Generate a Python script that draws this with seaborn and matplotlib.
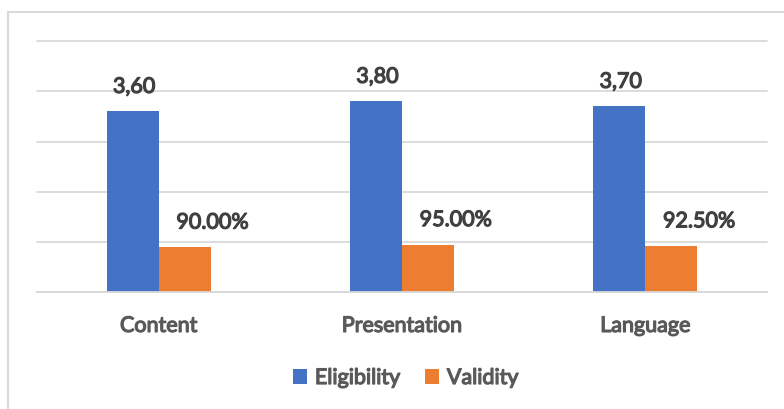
import matplotlib
matplotlib.use("Agg")
import matplotlib.pyplot as plt
import matplotlib.patheffects as pe
from matplotlib.patches import Rectangle, Patch
from matplotlib.ticker import FixedLocator
import pandas as pd
import seaborn as sns

categories = ["Content", "Presentation", "Language"]
eligibility = [3.60, 3.80, 3.70]
validity = [0.90, 0.95, 0.925]
eligibility_labels = ["3,60", "3,80", "3,70"]
validity_labels = ["90.00%", "95.00%", "92.50%"]
series = ["Eligibility", "Validity"]
colors = ["#4472C4", "#ED7D31"]

df = pd.DataFrame({
    "category": categories * 2,
    "series": [series[0]] * 3 + [series[1]] * 3,
    "value": eligibility + validity,
})

sns.set_style("white")
plt.rcParams["font.family"] = ["Lato", "DejaVu Sans"]
FS = 15.5


def heavy(color):
    # thicken the glyphs with a same-coloured outline
    return [pe.withStroke(linewidth=0.9, foreground=color)]


W, H = 784, 410
fig = plt.figure(figsize=(W / 100, H / 100), dpi=100)
ax = fig.add_axes([37 / W, 1 - 293.3 / H, (767 - 37) / W, (293.3 - 42) / H])

sns.barplot(data=df, x="category", y="value", hue="series", order=categories,
            hue_order=series, palette=colors, width=0.428, gap=0,
            saturation=1, linewidth=0, legend=False, ax=ax)

ax.set_xlim(-0.5, 2.5)
ax.set_ylim(0, 5)
ax.set_yticks([0, 1, 2, 3, 4, 5])
ax.set_yticklabels([])
ax.tick_params(axis="y", length=0)
ax.yaxis.grid(True, color="#D9D9D9", linewidth=1.3)
for gl in ax.get_ygridlines():
    gl.set_clip_on(False)
ax.set_axisbelow(True)
for s in ["left", "right", "top"]:
    ax.spines[s].set_visible(False)
ax.spines["bottom"].set_color("#D9D9D9")
ax.spines["bottom"].set_linewidth(1.3)

ax.set_xlabel("")
ax.set_ylabel("")
ax.tick_params(axis="x", which="major", length=0, pad=17,
               labelsize=FS, labelcolor="#595959")
for t in ax.get_xticklabels():
    t.set_path_effects(heavy("#595959"))
ax.xaxis.set_minor_locator(FixedLocator([-0.5, 0.5, 1.5, 2.5]))
ax.tick_params(axis="x", which="minor", length=7, width=1.3, color="#D9D9D9")

# value labels above each bar
elig_bars = ax.patches[:3]
val_bars = ax.patches[3:6]
for bar, v, lab in zip(elig_bars, eligibility, eligibility_labels):
    cx = bar.get_x() + bar.get_width() / 2
    ax.annotate(lab, (cx, v), xytext=(1, 13.3), textcoords="offset points",
                ha="center", va="baseline", fontsize=FS, color="#404040",
                path_effects=heavy("#404040"))
for bar, v, lab in zip(val_bars, validity, validity_labels):
    cx = bar.get_x() + bar.get_width() / 2
    ax.annotate(lab, (cx, v), xytext=(20, 13.3), textcoords="offset points",
                ha="center", va="baseline", fontsize=FS, color="#404040",
                path_effects=heavy("#404040"))

handles = [Patch(facecolor=c, edgecolor="none") for c in colors]
leg = fig.legend(handles, series, loc="center",
                 bbox_to_anchor=(406 / W, 1 - 379 / H),
                 ncol=2, frameon=False, handlelength=0.65, handleheight=0.65,
                 handletextpad=0.35, columnspacing=1.15,
                 prop={"size": FS}, labelcolor="#595959")
for t in leg.get_texts():
    t.set_path_effects(heavy("#595959"))

# chart-area frame
fig.patches.append(Rectangle((8 / W, -0.1), 1.2, 1 - 13 / H + 0.1,
                             transform=fig.transFigure, fill=False,
                             edgecolor="#D9D9D9", linewidth=1.5, zorder=0))

fig.savefig("out.png", dpi=100)
